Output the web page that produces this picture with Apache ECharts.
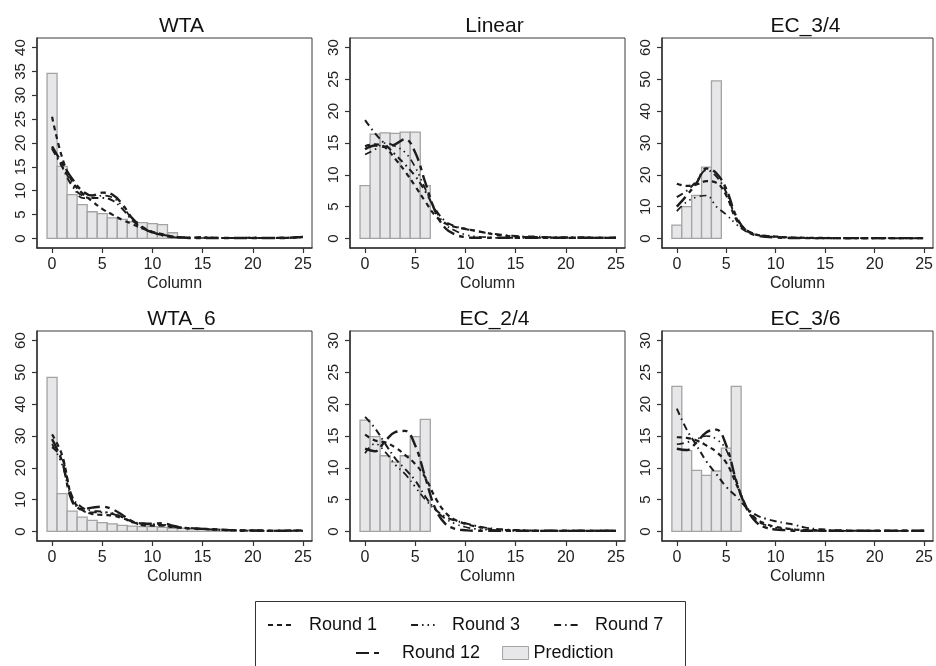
<!DOCTYPE html>
<html><head><meta charset="utf-8">
<script src="https://cdn.jsdelivr.net/npm/echarts@6/dist/echarts.min.js"></script>
<style>html,body{margin:0;padding:0;background:#fff}#c{width:936px;height:666px}</style>
</head><body><div id="c"></div>
<script>
// ---------- data ----------
const panelTitles = ['WTA', 'Linear', 'EC_3/4', 'WTA_6', 'EC_2/4', 'EC_3/6'];
const xTicks = [0, 5, 10, 15, 20, 25];
const yTicksWTA = [0, 5, 10, 15, 20, 25, 30, 35, 40];
const yTicks30 = [0, 5, 10, 15, 20, 25, 30];
const yTicks60 = [0, 10, 20, 30, 40, 50, 60];
const roundNames = ['Round 1', 'Round 3', 'Round 7', 'Round 12'];

// Prediction bars (column 0,1,2,...)
const predWTA = [34.6, 15.1, 9.2, 7.1, 5.6, 5.2, 4.3, 4.0, 3.5, 3.3, 3.1, 2.9, 1.2];
const predLinear = [8.3, 16.4, 16.6, 16.5, 16.7, 16.7, 8.3];
const predEC34 = [4.2, 10.0, 13.5, 22.4, 49.5];
const predWTA6 = [48.4, 11.9, 6.4, 4.5, 3.5, 2.8, 2.4, 1.9, 1.7, 1.5, 1.5, 1.3, 1.0, 1.0, 0.9, 0.8, 0.7, 0.7];
const predEC24 = [17.5, 14.9, 11.9, 10.9, 11.9, 14.9, 17.6];
const predEC36 = [22.8, 12.7, 9.6, 8.8, 9.5, 13.1, 22.8];

// Round curves, columns 0..25
const r1WTA  = [25.5, 17.0, 12.0, 9.5, 7.8, 6.2, 5.0, 3.9, 3.0, 2.1, 1.4, 0.9, 0.4, 0.2, 0.1, 0.2, 0.1, 0.1, 0.1, 0.1, 0.1, 0.1, 0.1, 0.1, 0.2, 0.4];
const r3WTA  = [19.0, 15.2, 11.5, 8.5, 8.4, 9.0, 8.6, 6.8, 4.0, 2.2, 1.2, 0.6, 0.3, 0.2, 0.1, 0.1, 0.1, 0.1, 0.1, 0.1, 0.1, 0.1, 0.1, 0.1, 0.1, 0.3];
const r7WTA  = [18.8, 15.0, 11.0, 9.0, 8.5, 8.5, 8.0, 6.2, 3.8, 2.2, 1.3, 0.8, 0.4, 0.2, 0.2, 0.3, 0.2, 0.1, 0.1, 0.1, 0.2, 0.1, 0.1, 0.2, 0.1, 0.5];
const r12WTA = [19.3, 15.8, 12.5, 10.0, 9.0, 9.6, 9.2, 7.2, 4.2, 2.4, 1.3, 0.7, 0.3, 0.2, 0.1, 0.1, 0.1, 0.1, 0.1, 0.1, 0.1, 0.1, 0.1, 0.1, 0.2, 0.3];

const r1Linear  = [14.5, 14.8, 14.3, 12.5, 10.5, 8.2, 5.8, 3.6, 2.4, 1.8, 1.5, 1.2, 0.9, 0.6, 0.4, 0.3, 0.2, 0.2, 0.2, 0.1, 0.1, 0.1, 0.1, 0.1, 0.1, 0.1];
const r3Linear  = [13.2, 14.0, 15.0, 14.5, 13.5, 11.2, 7.8, 4.5, 2.2, 1.2, 0.6, 0.3, 0.2, 0.1, 0.1, 0.1, 0.1, 0.1, 0.1, 0.1, 0.1, 0.1, 0.1, 0.1, 0.1, 0.1];
const r7Linear  = [18.6, 16.5, 14.8, 13.2, 11.6, 9.8, 7.4, 4.6, 2.7, 1.9, 1.5, 1.2, 0.9, 0.7, 0.5, 0.4, 0.3, 0.3, 0.2, 0.2, 0.2, 0.2, 0.2, 0.1, 0.1, 0.1];
const r12Linear = [14.0, 14.6, 14.4, 14.8, 15.6, 13.5, 8.8, 4.2, 1.6, 0.6, 0.2, 0.1, 0.1, 0.1, 0.1, 0.1, 0.1, 0.1, 0.1, 0.1, 0.1, 0.1, 0.1, 0.1, 0.1, 0.1];

const r1EC34  = [17.2, 16.5, 17.0, 18.0, 17.5, 13.5, 6.0, 2.5, 1.2, 0.8, 0.6, 0.4, 0.3, 0.2, 0.2, 0.2, 0.1, 0.1, 0.1, 0.1, 0.1, 0.1, 0.1, 0.1, 0.1, 0.1];
const r3EC34  = [8.6, 11.5, 13.0, 13.5, 10.0, 7.5, 4.5, 2.2, 1.2, 0.7, 0.5, 0.3, 0.2, 0.1, 0.1, 0.1, 0.1, 0.1, 0.1, 0.1, 0.1, 0.1, 0.1, 0.1, 0.1, 0.1];
const r7EC34  = [13.0, 15.0, 18.0, 21.5, 19.5, 14.5, 6.5, 2.8, 1.3, 0.8, 0.5, 0.3, 0.2, 0.2, 0.1, 0.1, 0.1, 0.1, 0.1, 0.1, 0.1, 0.1, 0.1, 0.1, 0.1, 0.1];
const r12EC34 = [10.0, 13.5, 17.5, 22.0, 20.5, 15.5, 7.0, 2.5, 1.0, 0.5, 0.3, 0.2, 0.1, 0.1, 0.1, 0.1, 0.1, 0.1, 0.1, 0.1, 0.1, 0.1, 0.1, 0.1, 0.1, 0.1];

const r1WTA6  = [30.5, 24.0, 10.5, 6.8, 5.5, 5.2, 5.0, 4.2, 3.0, 2.0, 1.8, 1.8, 1.4, 1.1, 0.9, 0.8, 0.6, 0.5, 0.3, 0.3, 0.3, 0.2, 0.2, 0.2, 0.3, 0.3];
const r3WTA6  = [27.5, 21.0, 10.0, 6.5, 6.0, 6.0, 5.8, 4.5, 2.8, 2.2, 2.2, 2.2, 1.5, 1.2, 1.0, 0.8, 0.6, 0.4, 0.3, 0.2, 0.2, 0.2, 0.2, 0.2, 0.2, 0.2];
const r7WTA6  = [26.5, 23.0, 11.0, 7.5, 6.5, 6.2, 5.5, 4.5, 3.0, 2.5, 2.2, 2.0, 1.5, 1.2, 1.0, 0.8, 0.6, 0.5, 0.4, 0.3, 0.3, 0.2, 0.2, 0.2, 0.2, 0.2];
const r12WTA6 = [29.0, 22.0, 9.5, 7.0, 7.5, 7.8, 7.0, 5.2, 3.2, 2.5, 2.4, 2.6, 1.8, 1.2, 0.9, 0.8, 0.7, 0.5, 0.4, 0.3, 0.3, 0.3, 0.2, 0.2, 0.3, 0.3];

const r1EC24  = [15.2, 14.3, 14.0, 13.2, 12.0, 10.6, 8.5, 5.3, 3.0, 1.8, 1.2, 0.8, 0.5, 0.3, 0.2, 0.2, 0.1, 0.1, 0.1, 0.1, 0.1, 0.1, 0.1, 0.1, 0.1, 0.1];
const r3EC24  = [12.3, 13.8, 12.5, 10.5, 9.0, 7.0, 5.0, 3.4, 2.0, 1.2, 0.7, 0.4, 0.3, 0.2, 0.1, 0.1, 0.1, 0.1, 0.1, 0.1, 0.1, 0.1, 0.1, 0.1, 0.1, 0.1];
const r7EC24  = [18.0, 16.2, 13.8, 11.5, 9.8, 8.0, 5.5, 3.5, 2.3, 1.7, 1.3, 0.9, 0.6, 0.4, 0.3, 0.2, 0.2, 0.1, 0.1, 0.1, 0.1, 0.1, 0.1, 0.1, 0.1, 0.1];
const r12EC24 = [13.0, 12.6, 14.2, 15.6, 15.8, 13.5, 8.5, 3.6, 1.2, 0.4, 0.2, 0.1, 0.1, 0.1, 0.1, 0.1, 0.1, 0.1, 0.1, 0.1, 0.1, 0.1, 0.1, 0.1, 0.1, 0.1];

const r1EC36  = [14.8, 14.7, 14.3, 13.5, 12.5, 10.8, 7.5, 4.0, 2.0, 1.2, 0.7, 0.5, 0.3, 0.2, 0.2, 0.1, 0.1, 0.1, 0.1, 0.1, 0.1, 0.1, 0.1, 0.1, 0.1, 0.1];
const r3EC36  = [13.7, 14.0, 14.5, 15.0, 14.5, 12.8, 8.0, 4.0, 1.8, 1.0, 0.6, 0.4, 0.3, 0.2, 0.1, 0.1, 0.1, 0.1, 0.1, 0.1, 0.1, 0.1, 0.1, 0.1, 0.1, 0.1];
const r7EC36  = [19.3, 16.0, 13.5, 11.0, 9.0, 7.0, 5.5, 3.8, 2.6, 2.0, 1.6, 1.3, 1.0, 0.6, 0.4, 0.3, 0.2, 0.2, 0.1, 0.1, 0.1, 0.1, 0.1, 0.1, 0.1, 0.1];
const r12EC36 = [13.0, 12.8, 14.0, 15.6, 16.0, 13.5, 8.0, 3.8, 1.5, 0.6, 0.3, 0.2, 0.1, 0.1, 0.1, 0.1, 0.1, 0.1, 0.1, 0.1, 0.1, 0.1, 0.1, 0.1, 0.1, 0.1];

// ---------- assembly ----------
const panels = [
  { pred: predWTA,    rounds: [r1WTA, r3WTA, r7WTA, r12WTA],             yTicks: yTicksWTA },
  { pred: predLinear, rounds: [r1Linear, r3Linear, r7Linear, r12Linear], yTicks: yTicks30 },
  { pred: predEC34,   rounds: [r1EC34, r3EC34, r7EC34, r12EC34],         yTicks: yTicks60 },
  { pred: predWTA6,   rounds: [r1WTA6, r3WTA6, r7WTA6, r12WTA6],         yTicks: yTicks60 },
  { pred: predEC24,   rounds: [r1EC24, r3EC24, r7EC24, r12EC24],         yTicks: yTicks30 },
  { pred: predEC36,   rounds: [r1EC36, r3EC36, r7EC36, r12EC36],         yTicks: yTicks30 }
];

const FONT = '"Liberation Sans", Arial, Helvetica, sans-serif';
const INK = '#222';
const colLeft = [37, 350, 662];
const colWidth = [275, 275, 273];
const rowTop = [38, 331];
const plotH = 210;
const dashes = [[5, 4], [7, 4, 1.5, 4, 1.5, 4, 1.5, 4], [7, 4, 1.5, 4], [13, 5, 5, 5]];
const widths = [2.2, 1.7, 2, 2.4];
const BAR_FILL = '#e7e7e9', BAR_EDGE = '#a3a3a3';

const grids = [], xAxes = [], yAxes = [], titles = [], series = [];
panels.forEach((p, i) => {
  const r = Math.floor(i / 3), c = i % 3;
  grids.push({ left: colLeft[c], top: rowTop[r], width: colWidth[c], height: plotH,
    show: true, borderColor: '#3a3a3a', borderWidth: 1, containLabel: false });
  titles.push({ text: panelTitles[i], left: colLeft[c] + colWidth[c] / 2 + 2, top: rowTop[r] - 27,
    textAlign: 'center', textStyle: { fontFamily: FONT, fontSize: 21, fontWeight: 'normal', color: '#111' } });
  xAxes.push({ type: 'value', gridIndex: i, min: -1.5, max: 25.9,
    name: 'Column', nameLocation: 'middle', nameGap: 28,
    nameTextStyle: { fontFamily: FONT, fontSize: 16, color: INK },
    axisLine: { show: true, onZero: false, lineStyle: { color: '#333', width: 1.5 } },
    axisTick: { show: true, length: 5, customValues: xTicks, lineStyle: { color: '#333', width: 1.2 } },
    axisLabel: { customValues: xTicks, margin: 9, fontFamily: FONT, fontSize: 16, color: INK },
    splitLine: { show: false } });
  const yMax = p.yTicks[p.yTicks.length - 1];
  yAxes.push({ type: 'value', gridIndex: i, min: -0.05 * yMax, max: 1.05 * yMax,
    axisLine: { show: true, onZero: false, lineStyle: { color: '#333', width: 1.5 } },
    axisTick: { show: true, length: 5, customValues: p.yTicks, lineStyle: { color: '#333', width: 1.2 } },
    axisLabel: { customValues: p.yTicks, rotate: 90, margin: 9, fontFamily: FONT, fontSize: 15, color: INK },
    splitLine: { show: false } });
  series.push({
    type: 'custom', name: 'Prediction', xAxisIndex: i, yAxisIndex: i, z: 1,
    itemStyle: { color: BAR_FILL, borderColor: BAR_EDGE, borderWidth: 1.3 },
    data: p.pred.map((v, k) => [k, v]),
    renderItem: function (params, api) {
      const x = api.value(0), v = api.value(1);
      const a = api.coord([x - 0.5, 0]);
      const b = api.coord([x + 0.5, v]);
      return { type: 'rect', shape: { x: a[0], y: b[1], width: b[0] - a[0], height: a[1] - b[1] },
        style: { fill: BAR_FILL, stroke: BAR_EDGE, lineWidth: 1.3 } };
    }
  });
  p.rounds.forEach((vals, k) => {
    series.push({
      type: 'line', name: roundNames[k], xAxisIndex: i, yAxisIndex: i, z: 3 + k,
      smooth: 0.4, symbol: 'none', showSymbol: false, clip: true,
      lineStyle: { color: '#1c1c1c', width: widths[k], type: dashes[k] },
      itemStyle: { color: '#1c1c1c' },
      data: vals.map((v, x) => [x, v])
    });
  });
});

const legendText = { fontFamily: FONT, fontSize: 18, color: '#111' };
const option = {
  backgroundColor: '#fff',
  animation: false,
  title: titles,
  grid: grids,
  xAxis: xAxes,
  yAxis: yAxes,
  legend: [
    { left: 262, top: 611, itemWidth: 26, itemHeight: 14, itemGap: 33, orient: 'horizontal',
      itemStyle: { opacity: 0 },
      data: ['Round 1', 'Round 3', 'Round 7'], textStyle: legendText,
      formatter: n => '  ' + n, selectedMode: false },
    { left: 350, top: 639, itemWidth: 26, itemHeight: 13, itemGap: 22,
      itemStyle: { opacity: 0 },
      data: ['Round 12', { name: 'Prediction', icon: 'rect',
        itemStyle: { opacity: 1, color: BAR_FILL, borderColor: BAR_EDGE, borderWidth: 1 } }],
      textStyle: legendText, formatter: n => (n === 'Prediction' ? n : '   ' + n), selectedMode: false }
  ],
  graphic: [{ type: 'rect', silent: true, shape: { x: 255.5, y: 601.5, width: 430, height: 80 },
    style: { fill: 'none', stroke: '#333', lineWidth: 1 } }],
  series: series
};
const chart = echarts.init(document.getElementById('c'), null, { renderer: 'canvas' });
chart.setOption(option);
</script>
</body></html>
